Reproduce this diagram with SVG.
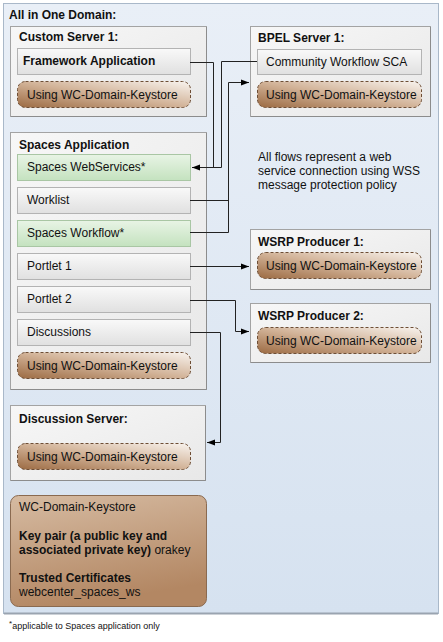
<svg xmlns="http://www.w3.org/2000/svg" width="443" height="642" viewBox="0 0 443 642">
<defs>
<linearGradient id="gOuter" x1="0" y1="0" x2="0" y2="1"><stop offset="0" stop-color="#e9eff7"/><stop offset="1" stop-color="#d6e2f0"/></linearGradient>
<linearGradient id="gBox" x1="0" y1="0" x2="1" y2="1"><stop offset="0" stop-color="#f7f7f7"/><stop offset="1" stop-color="#e8e8e8"/></linearGradient>
<linearGradient id="gBar" x1="0" y1="0" x2="0" y2="1"><stop offset="0" stop-color="#f9f9f9"/><stop offset="1" stop-color="#e0e0e0"/></linearGradient>
<linearGradient id="gGreen" x1="0" y1="0" x2="0" y2="1"><stop offset="0" stop-color="#e8f4e5"/><stop offset="1" stop-color="#c4e2bf"/></linearGradient>
<linearGradient id="gPill" x1="0" y1="1" x2="1" y2="0"><stop offset="0" stop-color="#9c6b43"/><stop offset="0.5" stop-color="#d2b398"/><stop offset="1" stop-color="#f8f3ee"/></linearGradient>
<linearGradient id="gKey" x1="0" y1="0" x2="0.3" y2="1"><stop offset="0" stop-color="#d6bba2"/><stop offset="1" stop-color="#b38763"/></linearGradient>
<marker id="arr" viewBox="0 0 8 8" refX="8" refY="4" markerWidth="8" markerHeight="8" markerUnits="userSpaceOnUse" orient="auto"><path d="M0,1 L8,4 L0,7 Z" fill="#000"/></marker>
</defs>
<style>
.t{font-family:"Liberation Sans",Arial,sans-serif;font-size:12px;fill:#111}
.b{font-weight:bold}
.box{fill:url(#gBox);stroke:#a3a3a3;stroke-width:1}
.bar{fill:url(#gBar);stroke:#b3b3b3;stroke-width:1}
.grn{fill:url(#gGreen);stroke:#a9c6a4;stroke-width:1}
.pill{fill:url(#gPill);stroke:#6e4e35;stroke-width:1;stroke-dasharray:3 2}
.ln{fill:none;stroke:#222;stroke-width:1}
.sh{fill:none;stroke:#8c8c8c;stroke-width:1}
</style>
<rect x="0" y="0" width="443" height="642" fill="#fff"/>
<g id="domain">
<rect x="3.5" y="3.5" width="435" height="610" fill="url(#gOuter)" stroke="#a9b8c9"/>
<line x1="4" y1="613.5" x2="438" y2="613.5" stroke="#9aa4b0" stroke-width="2"/>
<text class="t b" x="9" y="19">All in One Domain:</text>
</g>
<g id="custom-server">
<rect class="box" x="10.5" y="26.5" width="196" height="90"/>
<polyline class="sh" points="206.5,27 206.5,116.5 11,116.5"/>
<text class="t b" x="19" y="41">Custom Server 1:</text>
<rect class="bar" x="17.5" y="48.5" width="173" height="26"/>
<text class="t b" x="23" y="65">Framework Application</text>
<rect class="pill" x="17.5" y="81.5" width="173" height="26" rx="8"/>
<text class="t" x="27" y="99">Using WC-Domain-Keystore</text>
</g>
<g id="bpel-server">
<rect class="box" x="250.5" y="26.5" width="180" height="90"/>
<polyline class="sh" points="430.5,27 430.5,116.5 251,116.5"/>
<text class="t b" x="258" y="42">BPEL Server 1:</text>
<rect class="bar" x="257.5" y="49.5" width="164" height="25"/>
<text class="t" x="266" y="66">Community Workflow SCA</text>
<rect class="pill" x="257.5" y="81.5" width="164" height="26" rx="8"/>
<text class="t" x="266" y="99">Using WC-Domain-Keystore</text>
</g>
<g id="spaces-app">
<rect class="box" x="10.5" y="132.5" width="196" height="257"/>
<polyline class="sh" points="206.5,133 206.5,389.5 11,389.5"/>
<text class="t b" x="19" y="149">Spaces Application</text>
<rect class="grn" x="17.5" y="154.5" width="173" height="26"/>
<text class="t" x="27" y="171">Spaces WebServices*</text>
<rect class="bar" x="17.5" y="187.5" width="173" height="26"/>
<text class="t" x="27" y="204">Worklist</text>
<rect class="grn" x="17.5" y="220.5" width="173" height="26"/>
<text class="t" x="27" y="237">Spaces Workflow*</text>
<rect class="bar" x="17.5" y="253.5" width="173" height="26"/>
<text class="t" x="27" y="270">Portlet 1</text>
<rect class="bar" x="17.5" y="286.5" width="173" height="26"/>
<text class="t" x="27" y="303">Portlet 2</text>
<rect class="bar" x="17.5" y="319.5" width="173" height="26"/>
<text class="t" x="27" y="336">Discussions</text>
<rect class="pill" x="17.5" y="352.5" width="173" height="26" rx="8"/>
<text class="t" x="27" y="370">Using WC-Domain-Keystore</text>
</g>
<g id="note">
<text class="t" x="258" y="161">All flows represent a web</text>
<text class="t" x="258" y="175">service connection using WSS</text>
<text class="t" x="258" y="189">message protection policy</text>
</g>
<g id="wsrp1">
<rect class="box" x="250.5" y="229.5" width="180" height="60"/>
<polyline class="sh" points="430.5,230 430.5,289.5 251,289.5"/>
<text class="t b" x="258" y="246">WSRP Producer 1:</text>
<rect class="pill" x="257.5" y="252.5" width="164" height="26" rx="8"/>
<text class="t" x="266" y="270">Using WC-Domain-Keystore</text>
</g>
<g id="wsrp2">
<rect class="box" x="250.5" y="303.5" width="180" height="59"/>
<polyline class="sh" points="430.5,304 430.5,362.5 251,362.5"/>
<text class="t b" x="258" y="320">WSRP Producer 2:</text>
<rect class="pill" x="257.5" y="327.5" width="164" height="26" rx="8"/>
<text class="t" x="266" y="345">Using WC-Domain-Keystore</text>
</g>
<g id="discussion-server">
<rect class="box" x="10.5" y="405.5" width="195" height="75"/>
<polyline class="sh" points="205.5,406 205.5,480.5 11,480.5"/>
<text class="t b" x="19" y="423">Discussion Server:</text>
<rect class="pill" x="17.5" y="443.5" width="173" height="26" rx="8"/>
<text class="t" x="27" y="461">Using WC-Domain-Keystore</text>
</g>
<g id="keystore">
<rect x="10.5" y="495.5" width="196" height="111" rx="8" fill="url(#gKey)" stroke="#8a6a50"/>
<text class="t" x="19" y="511">WC-Domain-Keystore</text>
<text class="t b" x="19" y="540">Key pair (a public key and</text>
<text class="t" x="19" y="554"><tspan class="b">associated private key)</tspan> orakey</text>
<text class="t b" x="19" y="582">Trusted Certificates</text>
<text class="t" x="19" y="596">webcenter_spaces_ws</text>
</g>
<g id="footnote">
<text class="t" x="9" y="629" style="font-size:9px"><tspan dy="-3" style="font-size:8px">*</tspan><tspan dy="3">applicable to Spaces application only</tspan></text>
</g>
<g id="connectors">
<polyline class="ln" points="190,62.5 213.5,62.5 213.5,167.5"/>
<polyline class="ln" points="257,61.5 221.5,61.5 221.5,167.5 192,167.5" marker-end="url(#arr)"/>
<polyline class="ln" points="190,200.5 228.5,200.5"/>
<polyline class="ln" points="190,232.5 228.5,232.5 228.5,82.5 249,82.5" marker-end="url(#arr)"/>
<polyline class="ln" points="190,266.5 249,266.5" marker-end="url(#arr)"/>
<polyline class="ln" points="190,300.5 235.5,300.5 235.5,331.5 249,331.5" marker-end="url(#arr)"/>
<polyline class="ln" points="190,332.5 220.5,332.5 220.5,442.5 207,442.5" marker-end="url(#arr)"/>
</g>
</svg>
